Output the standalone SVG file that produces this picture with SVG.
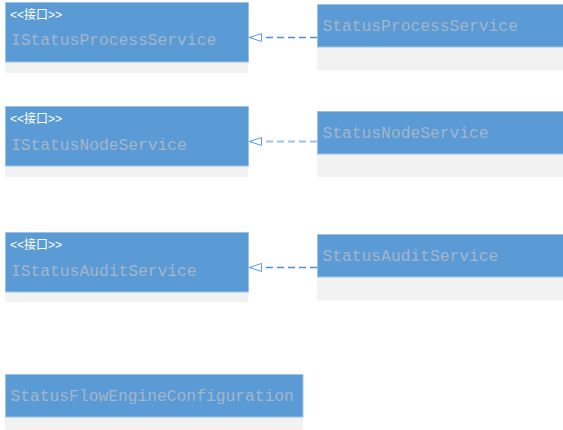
<svg xmlns="http://www.w3.org/2000/svg" width="563" height="430" viewBox="0 0 563 430">
  <defs>
    <style>
      .head { fill: #5b9bd5; stroke: #9dc3e6; stroke-width: 1; }
      .body { fill: #f2f2f2; stroke: none; }
      .stereo { font-family: "Liberation Sans", "Noto Sans CJK SC", sans-serif; font-size: 12px; fill: #ffffff; }
      .name { font-family: "Liberation Mono", "DejaVu Sans Mono", monospace; font-size: 16.3px; fill: #a3b5ca; }
      .realize { fill: none; stroke: #4f8fd0; stroke-width: 1.4; stroke-dasharray: 7 4; }
      .realize.light { stroke: #9dc3e6; stroke-width: 2; }
    </style>
    <!-- hollow triangle for realization; tip points along the path direction -->
    <marker id="hollow" viewBox="0 0 14 10" refX="13" refY="5" markerWidth="14" markerHeight="10" markerUnits="userSpaceOnUse" orient="auto">
      <path d="M1,1 L13,5 L1,9 Z" fill="#ffffff" stroke="#5b9bd5" stroke-width="1"/>
    </marker>
  </defs>
  <rect width="563" height="430" fill="#ffffff"/>

  <!-- interfaces -->
  <g id="IStatusProcessService">
    <rect class="body" x="5" y="62" width="243" height="11"/>
    <rect class="head" x="5.5" y="2.5" width="243" height="59.5"/>
    <text class="stereo" x="10" y="19">&lt;&lt;接口&gt;&gt;</text>
    <text class="name" x="11" y="45">IStatusProcessService</text>
  </g>
  <g id="IStatusNodeService">
    <rect class="body" x="5" y="166" width="243" height="11"/>
    <rect class="head" x="5.5" y="106.5" width="243" height="59.5"/>
    <text class="stereo" x="10" y="123">&lt;&lt;接口&gt;&gt;</text>
    <text class="name" x="11" y="150">IStatusNodeService</text>
  </g>
  <g id="IStatusAuditService">
    <rect class="body" x="5" y="292" width="243" height="10"/>
    <rect class="head" x="5.5" y="232.5" width="243" height="59.5"/>
    <text class="stereo" x="10" y="249">&lt;&lt;接口&gt;&gt;</text>
    <text class="name" x="11" y="276">IStatusAuditService</text>
  </g>

  <!-- implementations -->
  <g id="StatusProcessService">
    <rect class="body" x="317" y="47" width="246" height="23.5"/>
    <rect class="head" x="317.5" y="4.5" width="250" height="42.5"/>
    <text class="name" x="322.5" y="30.5">StatusProcessService</text>
  </g>
  <g id="StatusNodeService">
    <rect class="body" x="317" y="154" width="246" height="23"/>
    <rect class="head" x="317.5" y="111.5" width="250" height="42.5"/>
    <text class="name" x="322.5" y="137.5">StatusNodeService</text>
  </g>
  <g id="StatusAuditService">
    <rect class="body" x="317" y="277" width="246" height="23.5"/>
    <rect class="head" x="317.5" y="234.5" width="250" height="42.5"/>
    <text class="name" x="322.5" y="261">StatusAuditService</text>
  </g>

  <g id="StatusFlowEngineConfiguration">
    <rect class="body" x="5" y="417" width="298" height="13"/>
    <rect class="head" x="5.5" y="374.5" width="297.5" height="42.5"/>
    <text class="name" x="10.5" y="401">StatusFlowEngineConfiguration</text>
  </g>

  <!-- realization connectors -->
  <g id="connectors">
    <path class="realize" d="M317,37.5 L249.5,37.5" marker-end="url(#hollow)"/>
    <path class="realize light" d="M317,141.5 L249.5,141.5" marker-end="url(#hollow)"/>
    <path class="realize" d="M317,267.5 L249.5,267.5" marker-end="url(#hollow)"/>
  </g>
</svg>
